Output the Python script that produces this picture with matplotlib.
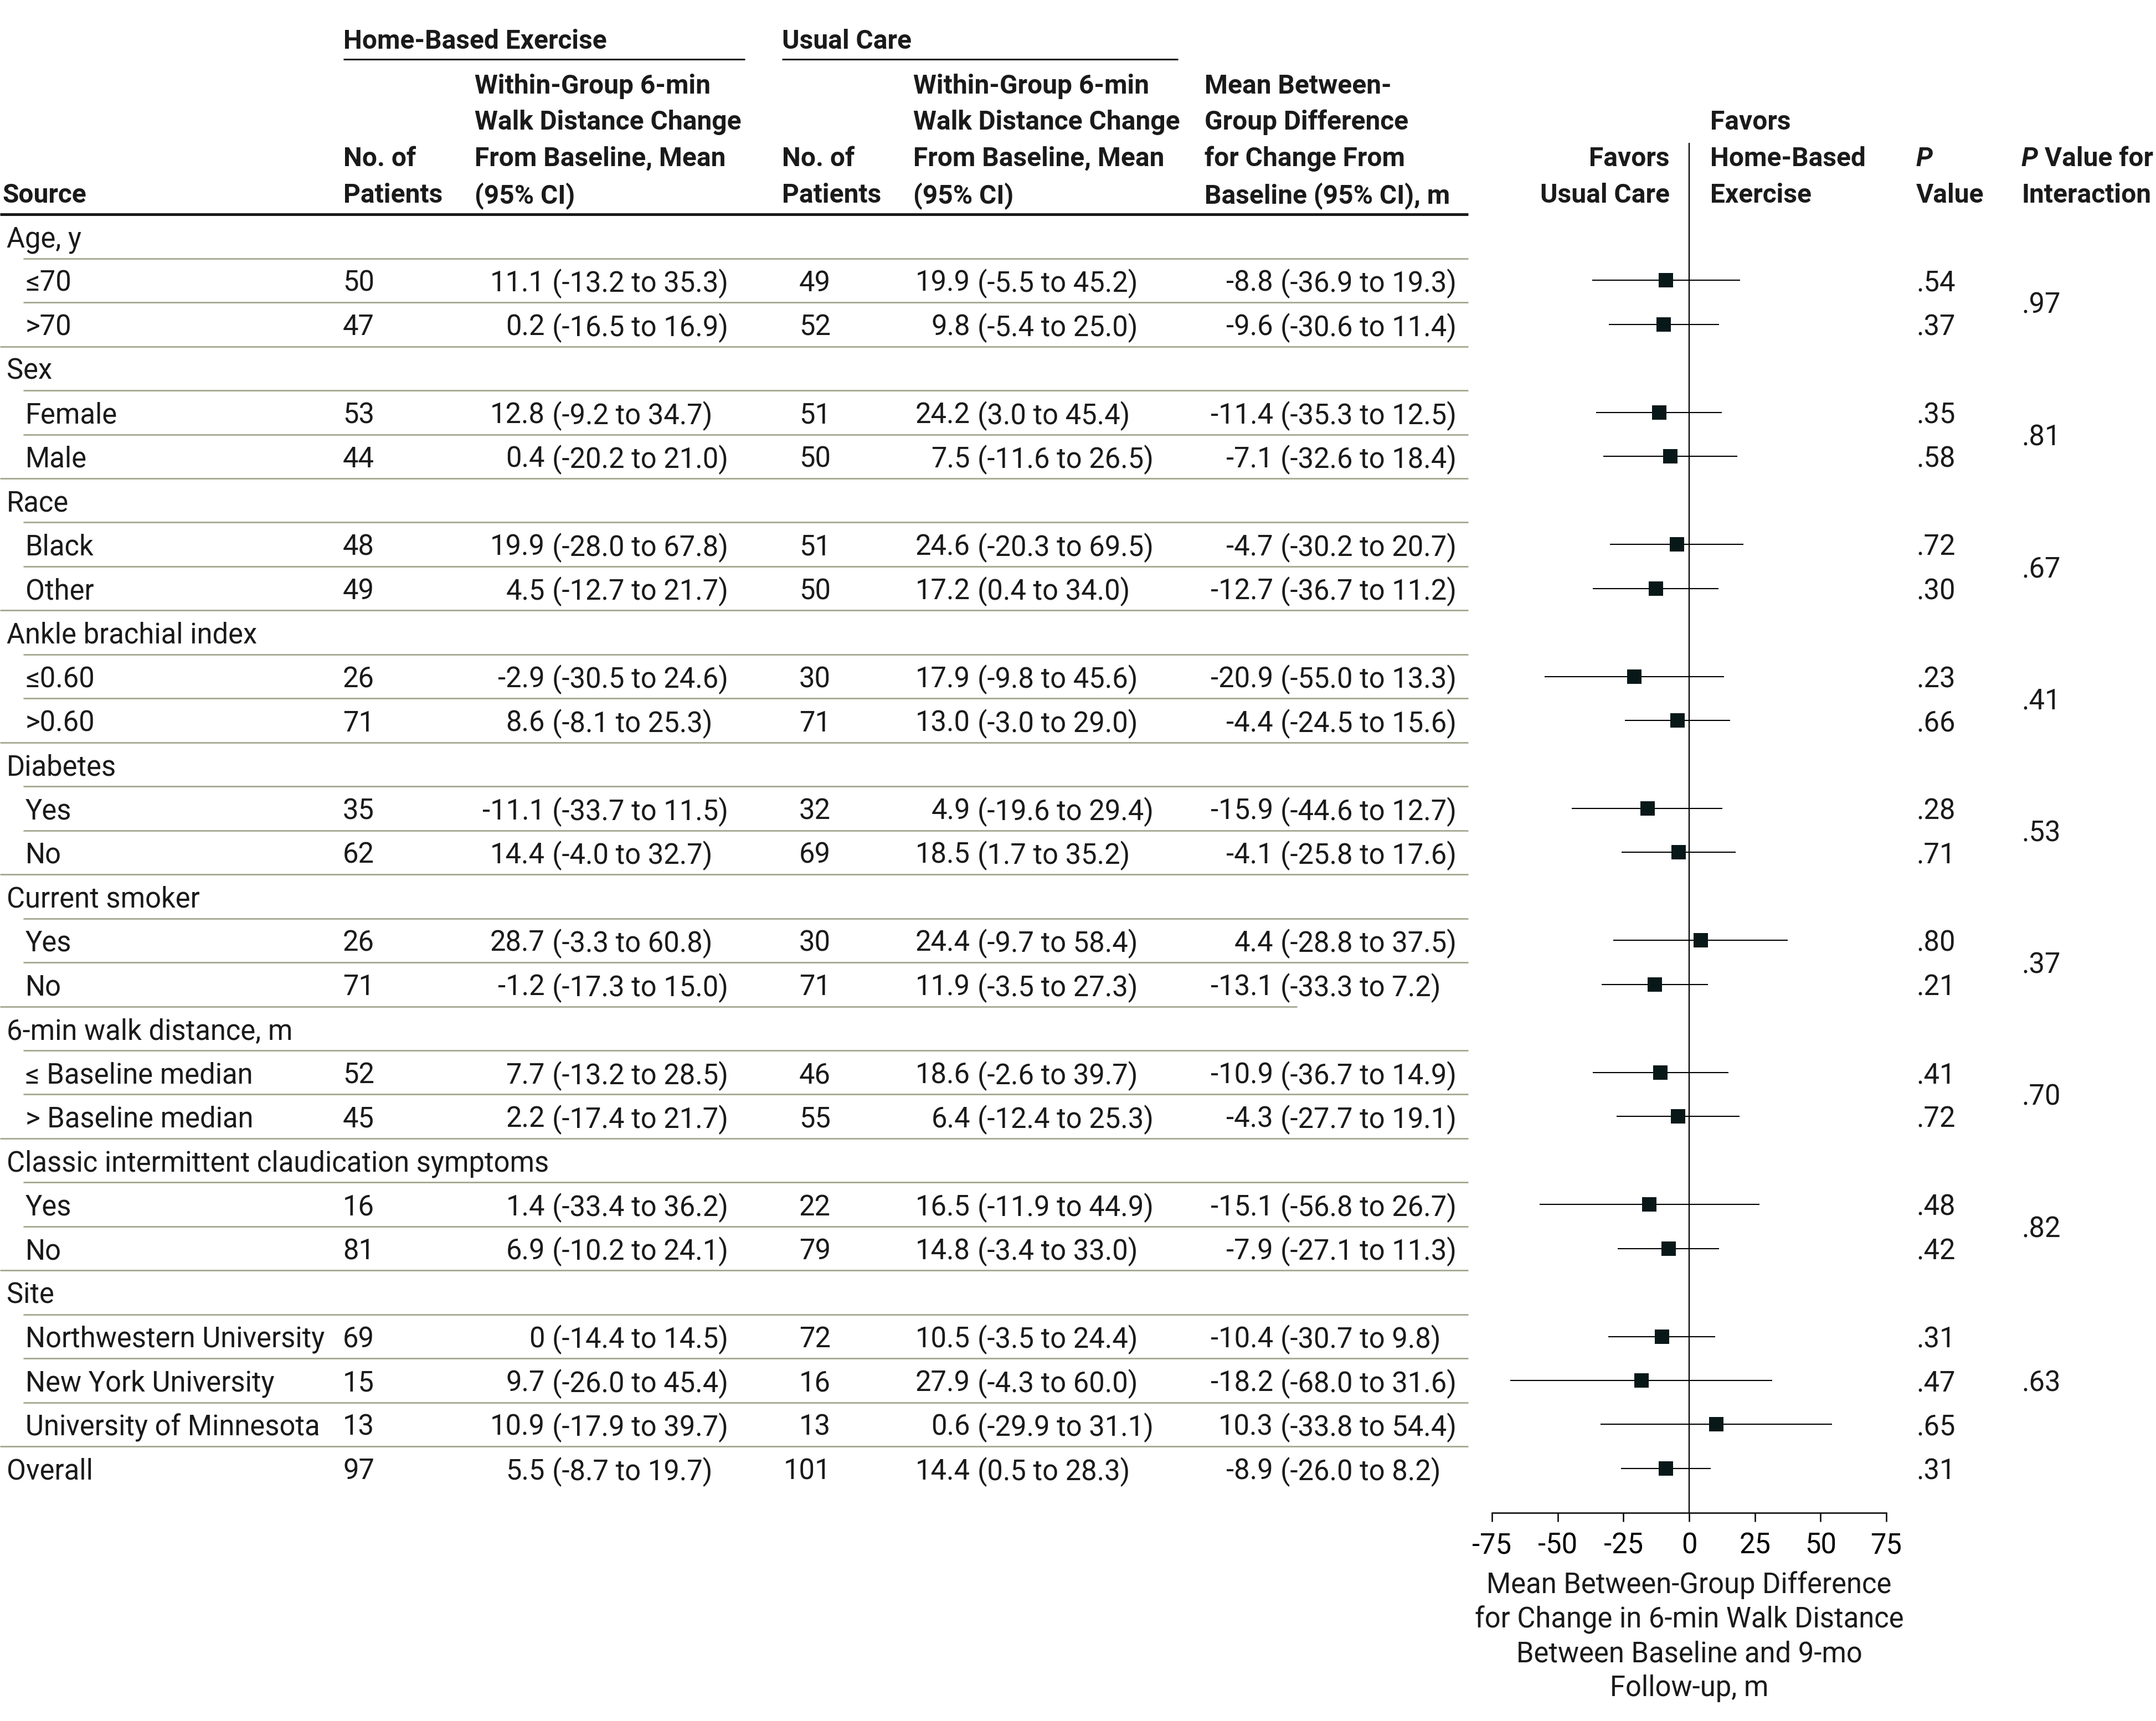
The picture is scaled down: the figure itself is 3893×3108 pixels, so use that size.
import matplotlib
matplotlib.use("Agg")
import matplotlib.pyplot as plt

W, H = 3893, 3108
plt.rcParams['font.family'] = ['Roboto', 'DejaVu Sans']
plt.rcParams['axes.unicode_minus'] = False

# ---- data -------------------------------------------------------------
groups = ["Age, y", "Sex", "Race", "Ankle brachial index", "Diabetes",
          "Current smoker", "6-min walk distance, m",
          "Classic intermittent claudication symptoms", "Site"]
subgroups = [["≤70", ">70"], ["Female", "Male"], ["Black", "Other"],
             ["≤0.60", ">0.60"], ["Yes", "No"], ["Yes", "No"],
             ["≤ Baseline median", "> Baseline median"], ["Yes", "No"],
             ["Northwestern University", "New York University",
              "University of Minnesota"]]

# one entry per subgroup row, last entry = Overall
hbe_n = [50, 47, 53, 44, 48, 49, 26, 71, 35, 62, 26, 71, 52, 45, 16, 81, 69, 15, 13, 97]
hbe_mean = [11.1, 0.2, 12.8, 0.4, 19.9, 4.5, -2.9, 8.6, -11.1, 14.4, 28.7, -1.2,
            7.7, 2.2, 1.4, 6.9, 0, 9.7, 10.9, 5.5]
hbe_lo = [-13.2, -16.5, -9.2, -20.2, -28.0, -12.7, -30.5, -8.1, -33.7, -4.0, -3.3, -17.3,
          -13.2, -17.4, -33.4, -10.2, -14.4, -26.0, -17.9, -8.7]
hbe_hi = [35.3, 16.9, 34.7, 21.0, 67.8, 21.7, 24.6, 25.3, 11.5, 32.7, 60.8, 15.0,
          28.5, 21.7, 36.2, 24.1, 14.5, 45.4, 39.7, 19.7]

uc_n = [49, 52, 51, 50, 51, 50, 30, 71, 32, 69, 30, 71, 46, 55, 22, 79, 72, 16, 13, 101]
uc_mean = [19.9, 9.8, 24.2, 7.5, 24.6, 17.2, 17.9, 13.0, 4.9, 18.5, 24.4, 11.9,
           18.6, 6.4, 16.5, 14.8, 10.5, 27.9, 0.6, 14.4]
uc_lo = [-5.5, -5.4, 3.0, -11.6, -20.3, 0.4, -9.8, -3.0, -19.6, 1.7, -9.7, -3.5,
         -2.6, -12.4, -11.9, -3.4, -3.5, -4.3, -29.9, 0.5]
uc_hi = [45.2, 25.0, 45.4, 26.5, 69.5, 34.0, 45.6, 29.0, 29.4, 35.2, 58.4, 27.3,
         39.7, 25.3, 44.9, 33.0, 24.4, 60.0, 31.1, 28.3]

diff = [-8.8, -9.6, -11.4, -7.1, -4.7, -12.7, -20.9, -4.4, -15.9, -4.1, 4.4, -13.1,
        -10.9, -4.3, -15.1, -7.9, -10.4, -18.2, 10.3, -8.9]
diff_lo = [-36.9, -30.6, -35.3, -32.6, -30.2, -36.7, -55.0, -24.5, -44.6, -25.8, -28.8, -33.3,
           -36.7, -27.7, -56.8, -27.1, -30.7, -68.0, -33.8, -26.0]
diff_hi = [19.3, 11.4, 12.5, 18.4, 20.7, 11.2, 13.3, 15.6, 12.7, 17.6, 37.5, 7.2,
           14.9, 19.1, 26.7, 11.3, 9.8, 31.6, 54.4, 8.2]

p_values = [".54", ".37", ".35", ".58", ".72", ".30", ".23", ".66", ".28", ".71", ".80", ".21",
            ".41", ".72", ".48", ".42", ".31", ".47", ".65", ".31"]
p_interaction = [".97", ".81", ".67", ".41", ".53", ".37", ".70", ".82", ".63"]

xticks = [-75, -50, -25, 0, 25, 50, 75]
xlabel = ("Mean Between-Group Difference\nfor Change in 6-min Walk Distance\n"
          "Between Baseline and 9-mo\nFollow-up, m")

# ---- layout ---------------------------------------------------------------
FS = 36.5      # body text
FS_HEAD = 34.5  # bold header text
ROW0, PITCH = 427, 79.46
GRID = '#a3a88e'
INK = '#1a1a1a'


def fmt(v):
    return "0" if v == 0 else f"{v:.1f}"


# build row list: (kind, label, data index, group index)
rows = []
k = 0
for gi, (g, subs) in enumerate(zip(groups, subgroups)):
    rows.append(('group', g, None, gi))
    for s in subs:
        rows.append(('sub', s, k, gi))
        k += 1
rows.append(('overall', 'Overall', k, None))


def row_y(r):
    return ROW0 + r * PITCH


fig = plt.figure(figsize=(W / 100, H / 100), dpi=100)
tab = fig.add_axes([0, 0, 1, 1])
tab.set_xlim(0, W)
tab.set_ylim(H, 0)
tab.axis('off')

txt = dict(fontsize=FS, color=INK, va='center_baseline')
bold = dict(fontsize=FS_HEAD, color=INK, va='center_baseline', fontweight='bold')

# header
tab.text(620, 70, "Home-Based Exercise", **bold)
tab.plot([620, 1345], [107, 107], color=INK, lw=2.2, solid_capstyle='butt')
tab.text(1412, 70, "Usual Care", **bold)
tab.plot([1412, 2127], [107, 107], color=INK, lw=2.2, solid_capstyle='butt')

hy = [151, 216, 282, 348]
tab.text(4, hy[3], "Source", **bold)
for x in (620, 1412):
    tab.text(x, hy[2], "No. of", **bold)
    tab.text(x, hy[3], "Patients", **bold)
for x in (857, 1649):
    for y, s in zip(hy, ["Within-Group 6-min", "Walk Distance Change",
                         "From Baseline, Mean", "(95% CI)"]):
        tab.text(x, y, s, **bold)
for y, s in zip(hy, ["Mean Between-", "Group Difference", "for Change From",
                     "Baseline (95% CI), m"]):
    tab.text(2175, y, s, **bold)
tab.text(3015, hy[2], "Favors", ha='right', **bold)
tab.text(3015, hy[3], "Usual Care", ha='right', **bold)
for y, s in zip(hy[1:], ["Favors", "Home-Based", "Exercise"]):
    tab.text(3088, y, s, **bold)
tab.text(3460, hy[2], "P", style='italic', **bold)
tab.text(3460, hy[3], "Value", **bold)
pt = tab.text(3650, hy[2], "P", style='italic', **bold)
tab.annotate(" Value for", xy=(1, 0), xycoords=pt, ha='left', va='bottom',
             fontsize=FS_HEAD, color=INK, fontweight='bold')
tab.text(3650, hy[3], "Interaction", **bold)
tab.plot([0, 2651], [387, 387], color=INK, lw=3.6, solid_capstyle='butt')

# body
sub_rows = []
for r, (kind, label, i, gi) in enumerate(rows):
    y = row_y(r)
    if kind == 'sub':
        tab.text(46, y, label, **txt)
    else:
        tab.text(12, y, label, **txt)
    if i is None:
        continue
    sub_rows.append(r)
    tab.text(676, y, str(hbe_n[i]), ha='right', **txt)
    tab.text(1500, y, str(uc_n[i]), ha='right', **txt)
    for xp, m, lo, hi in ((997, hbe_mean, hbe_lo, hbe_hi),
                          (1765, uc_mean, uc_lo, uc_hi),
                          (2312, diff, diff_lo, diff_hi)):
        tab.text(xp - 13, y, fmt(m[i]), ha='right', **txt)
        tab.text(xp, y, f"({fmt(lo[i])} to {fmt(hi[i])})", ha='left', **txt)
    tab.text(3460, y, p_values[i], **txt)

# interaction p values centred on each group's subgroup rows
for gi, pv in enumerate(p_interaction):
    rr = [r for r, row in enumerate(rows) if row[0] == 'sub' and row[3] == gi]
    tab.text(3650, sum(row_y(r) for r in rr) / len(rr), pv, **txt)

# horizontal rules between rows
for r in range(len(rows) - 1):
    y = (row_y(r) + row_y(r + 1)) / 2
    x0 = 42 if rows[r + 1][0] == 'sub' else 0
    x1 = 2651
    if rows[r][0] == 'sub' and groups[rows[r][3]] == "Current smoker" and rows[r + 1][0] == 'group':
        x1 = 2342
    tab.plot([x0, x1], [y, y], color=GRID, lw=2.0, solid_capstyle='butt')

# ---- forest plot ----------------------------------------------------------
fx0, fx1 = 2694, 3406
fy_top, fy_bot = 258, 2732
ax = fig.add_axes([fx0 / W, 1 - fy_bot / H, (fx1 - fx0) / W, (fy_bot - fy_top) / H])
ax.patch.set_visible(False)
ax.set_xlim(-75, 75)
ax.set_ylim((fy_bot - ROW0) / PITCH, (fy_top - ROW0) / PITCH)

ax.axvline(0, color='black', lw=1.6, zorder=1)
ax.hlines(sub_rows, diff_lo, diff_hi, color='black', lw=1.5, zorder=2)
ax.plot(diff, sub_rows, 's', ms=18.5, color='#081818', mew=0, zorder=3)

for s in ('left', 'right', 'top'):
    ax.spines[s].set_visible(False)
ax.spines['bottom'].set_linewidth(1.8)
ax.set_yticks([])
ax.set_xticks(xticks)
ax.set_xticklabels([str(t) for t in xticks])
ax.tick_params(axis='x', direction='out', length=11.5, width=1.8,
               labelsize=FS, pad=13, colors='black')
ax.set_xlabel(xlabel, fontsize=FS, linespacing=1.3, labelpad=15, color=INK)

fig.savefig("out.png", dpi=100)
